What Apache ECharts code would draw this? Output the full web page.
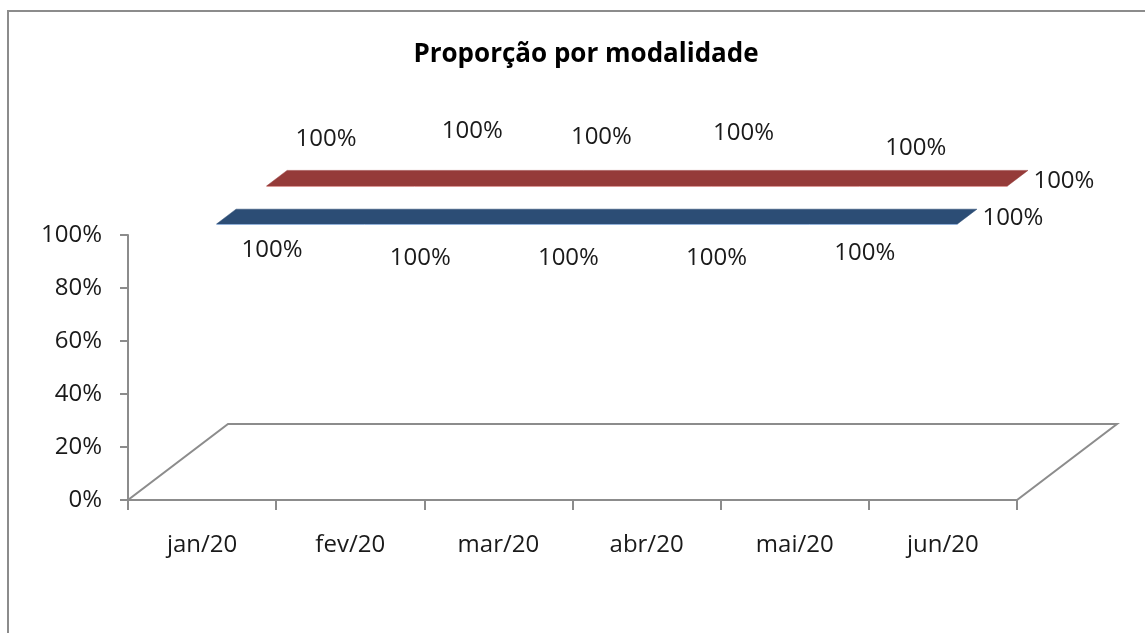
<!DOCTYPE html>
<html>
<head>
<meta charset="utf-8">
<script src="https://cdn.jsdelivr.net/npm/echarts@6/dist/echarts.min.js"></script>
<style>
  html, body { margin: 0; padding: 0; background: #fff; }
  #chart { width: 1145px; height: 633px; }
</style>
</head>
<body>
<div id="chart"></div>
<script>
// ---- data ----
const title = 'Proporção por modalidade';
const categories = ['jan/20', 'fev/20', 'mar/20', 'abr/20', 'mai/20', 'jun/20'];
const serieA = [1, 1, 1, 1, 1, 1];   // blue (front)
const serieB = [1, 1, 1, 1, 1, 1];   // red (back)
const yTicks = [0, 0.2, 0.4, 0.6, 0.8, 1];

// ---- style (3D projection & label placement) ----
const DEPTH = { dx: 100, dy: -76 };
const FONT = '"Open Sans", "Noto Sans", sans-serif';
const ribbonStyle = [
  { f0: 0.145, f1: 0.34, fill: '#2C4D75', edge: '#8FAFD8',
    nudge: [[70, 15], [70, 23], [70, 23], [70, 23], [70, 18], [70, -17]] },
  { f0: 0.645, f1: 0.85, fill: '#953B39', edge: '#D99694',
    nudge: [[124, -96], [122, -104], [103, -98], [97, -102], [121, -87], [121, -54]] }
];

const pct = v => Math.round(v * 100) + '%';

function ribbonSeries(values, st) {
  return {
    type: 'custom',
    coordinateSystem: 'cartesian2d',
    clip: false,
    z: 5,
    data: values.map((v, i) => [i, v]),
    renderItem: function (params, api) {
      const i = api.value(0), v = api.value(1);
      const p = api.coord([i, v]);
      const children = [];
      if (i === 0) {
        const pts = values.map((val, k) => api.coord([k, val]));
        const off = (pt, f) => [pt[0] + DEPTH.dx * f, pt[1] + DEPTH.dy * f];
        const front = pts.map(pt => off(pt, st.f0));
        const back = pts.map(pt => off(pt, st.f1)).reverse();
        children.push({
          type: 'polygon',
          shape: { points: front.concat(back) },
          style: { fill: st.fill, stroke: st.fill, lineWidth: 0.5 }
        });
        children.push({
          type: 'polyline',
          shape: { points: front.map(pt => [pt[0], pt[1] + 0.5]) },
          style: { stroke: st.edge, lineWidth: 1, fill: 'none' }
        });
      }
      const n = st.nudge[i];
      children.push({
        type: 'text',
        z2: 10,
        style: {
          text: pct(v),
          x: p[0] + n[0], y: p[1] + n[1],
          align: 'center', verticalAlign: 'middle',
          font: '24px ' + FONT,
          fill: '#1a1a1a'
        }
      });
      return { type: 'group', children: children };
    }
  };
}

const floorSeries = {
  type: 'custom',
  coordinateSystem: 'cartesian2d',
  clip: false,
  z: 1,
  data: [[0, 0]],
  renderItem: function (params, api) {
    const cs = params.coordSys;
    const x0 = cs.x, x1 = cs.x + cs.width, y0 = cs.y + cs.height;
    return {
      type: 'polygon',
      shape: { points: [[x0, y0], [x1, y0], [x1 + DEPTH.dx, y0 + DEPTH.dy], [x0 + DEPTH.dx, y0 + DEPTH.dy]] },
      style: { fill: 'none', stroke: '#8C8C8C', lineWidth: 2 }
    };
  }
};

const chart = echarts.init(document.getElementById('chart'), null, { renderer: 'canvas' });
chart.setOption({
  animation: false,
  backgroundColor: '#ffffff',
  title: {
    text: title,
    left: 581, top: 37, textAlign: 'center',
    textStyle: { fontFamily: FONT, fontWeight: 'bold', fontSize: 26, color: '#000' }
  },
  graphic: [{
    type: 'rect', silent: true,
    shape: { x: 8, y: 11, width: 1200, height: 700 },
    style: { fill: 'none', stroke: '#8C8C8C', lineWidth: 2 }
  }],
  grid: { left: 128, right: 128, top: 235, bottom: 133 },
  xAxis: {
    type: 'category',
    data: categories,
    boundaryGap: true,
    axisLine: { show: true, lineStyle: { color: '#8C8C8C', width: 2 } },
    axisTick: { show: true, length: 10, lineStyle: { color: '#8C8C8C', width: 2 } },
    axisLabel: { fontFamily: FONT, fontSize: 24, color: '#1a1a1a', margin: 33 },
    splitLine: { show: false }
  },
  yAxis: {
    type: 'value',
    min: yTicks[0], max: yTicks[yTicks.length - 1], interval: 0.2,
    axisLine: { show: true, lineStyle: { color: '#8C8C8C', width: 2 } },
    axisTick: { show: true, length: 8, lineStyle: { color: '#8C8C8C', width: 2 } },
    axisLabel: { fontFamily: FONT, fontSize: 24, color: '#1a1a1a', margin: 26, formatter: pct },
    splitLine: { show: false }
  },
  series: [floorSeries, ribbonSeries(serieB, ribbonStyle[1]), ribbonSeries(serieA, ribbonStyle[0])]
});
</script>
</body>
</html>
